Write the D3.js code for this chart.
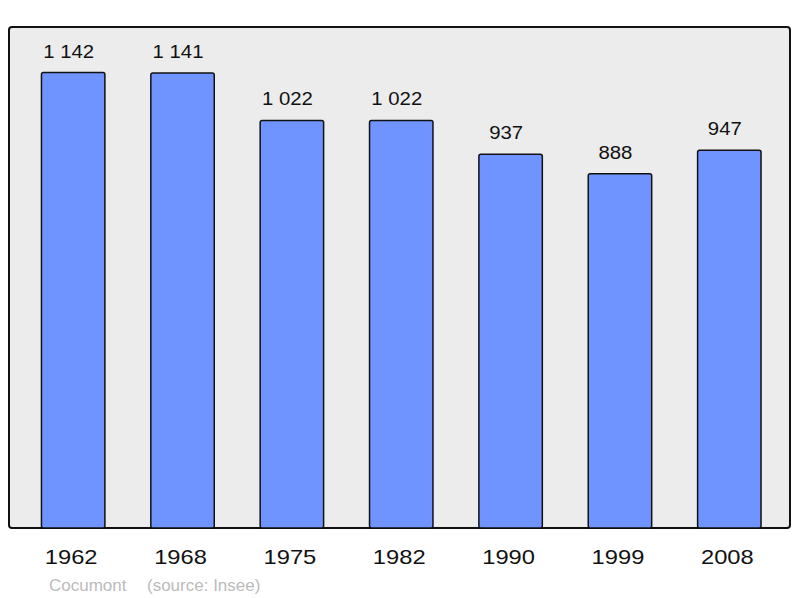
<!DOCTYPE html>
<html><head><meta charset="utf-8">
<script src="https://cdn.jsdelivr.net/npm/d3@7"></script>
<style>body{margin:0;background:#fff}svg{display:block}</style>
</head><body>
<script>
const years = ["1962","1968","1975","1982","1990","1999","2008"];
const population = [1142,1141,1022,1022,937,888,947];
const valueLabels = ["1 142","1 141","1 022","1 022","937","888","947"];
const title = "Cocumont";
const source = "(source: Insee)";

const W = 800, H = 598;
const frame = {x0: 9, y0: 27, x1: 790, y1: 528};
const svg = d3.select("body").append("svg").attr("width", W).attr("height", H)
  .style("font-family", "'Liberation Sans', Arial, sans-serif");

svg.append("rect").attr("x", frame.x0).attr("y", frame.y0)
  .attr("width", frame.x1 - frame.x0).attr("height", frame.y1 - frame.y0)
  .attr("rx", 3).attr("fill", "#ececec").attr("stroke", "#111").attr("stroke-width", 2);

const x = d3.scaleBand().domain(years).range([18.5, 784]).paddingInner(0.42).paddingOuter(0.21);
const y = d3.scaleLinear().domain([0, 1142 * 1.1]).range([frame.y1, frame.y0]);

svg.selectAll("rect.bar").data(population).join("rect").attr("class", "bar")
  .attr("x", (d, i) => x(years[i])).attr("width", x.bandwidth())
  .attr("y", d => y(d)).attr("height", d => y(0) - y(d))
  .attr("rx", 2).attr("fill", "#7094ff").attr("stroke", "#111").attr("stroke-width", 1.5);

svg.selectAll("text.val").data(population).join("text").attr("class", "val")
  .attr("transform", (d, i) => `translate(${x(years[i]) + x.bandwidth() / 2 - 4.5},${y(d) - 15}) scale(1.1,1)`)
  .attr("text-anchor", "middle").attr("font-size", 18.5).attr("fill", "#111")
  .text((d, i) => valueLabels[i]);

svg.selectAll("text.year").data(years).join("text").attr("class", "year")
  .attr("transform", d => `translate(${x(d) + x.bandwidth() / 2 - 2},564) scale(1.13,1)`)
  .attr("text-anchor", "middle").attr("font-size", 21).attr("fill", "#111")
  .text(d => d);

svg.append("text").attr("x", 49).attr("y", 591).attr("font-size", 17).attr("fill", "#bbb").text(title);
svg.append("text").attr("x", 147).attr("y", 591).attr("font-size", 17).attr("fill", "#bbb").text(source);
</script>
</body></html>
